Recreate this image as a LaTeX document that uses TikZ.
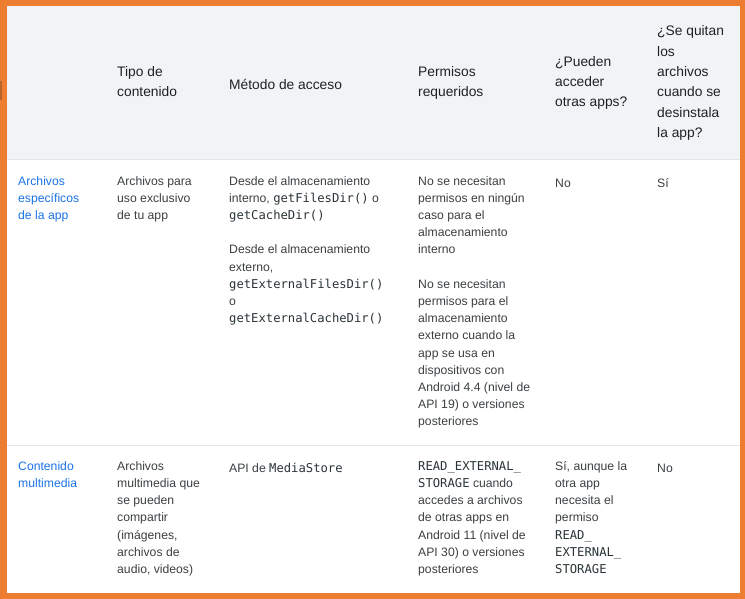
\documentclass[tikz,border=0pt]{standalone}
\usepackage{fontspec}
\setmainfont{Liberation Sans}
\newfontfamily\codefont{DejaVu Sans Mono}
\definecolor{frameorange}{HTML}{ED7D31}
\definecolor{frameshade}{HTML}{B8642C}
\definecolor{hdrbg}{HTML}{F1F3F4}
\definecolor{hdrtext}{HTML}{202124}
\definecolor{bodytext}{HTML}{3C4043}
\definecolor{codetext}{HTML}{2B3438}
\definecolor{linkblue}{HTML}{1A73E8}
\definecolor{rule}{HTML}{E3E5E8}
\newcommand{\cd}[1]{{\codefont\color{codetext}#1}}
\begin{document}
\begin{tikzpicture}[x=1pt,y=-1pt,
  hdr/.style={anchor=north west, inner sep=0pt, align=left,
    font=\fontsize{13.8}{20.3}\selectfont, text=hdrtext,
    execute at begin node={\rule{0pt}{13pt}}},
  bdy/.style={anchor=north west, inner sep=0pt, align=left,
    font=\fontsize{12.2}{17.2}\selectfont, text=bodytext,
    execute at begin node={\rule{0pt}{11pt}}},
  lnk/.style={bdy, text=linkblue},
  divider/.style={draw=rule, line width=1pt}]
\useasboundingbox (0,0) rectangle (745,599);
% frame
\fill[frameorange] (0,0) rectangle (745,599);
\fill[white] (7,6) rectangle (740,593);
\fill[frameshade] (0,81) rectangle (2,100);
% header background
\fill[hdrbg] (7,6) rectangle (740,159.5);
\draw[divider] (7,160) -- (740,160);
\draw[divider] (7,445.5) -- (740,445.5);
% header
\node[hdr] (h2) at (117,66.4) {Tipo de\\contenido};
\node[hdr] (h3) at (229,76.5) {Método de acceso};
\node[hdr] (h4) at (418,66.4) {Permisos\\requeridos};
\node[hdr] (h5) at (555,56.2) {¿Pueden\\acceder\\otras apps?};
\node[hdr] (h6) at (657,25.8) {¿Se quitan\\los\\archivos\\cuando se\\desinstala\\la app?};
% row 1
\node[lnk] (a1) at (18,176) {Archivos\\específicos\\de la app};
\node[bdy] (a2) at (117,176) {Archivos para\\uso exclusivo\\de tu app};
\node[bdy] (a3) at (229,176) {Desde el almacenamiento\\interno, \cd{getFilesDir()} o\\\cd{getCacheDir()}\\[17.2pt]Desde el almacenamiento\\externo,\\\cd{getExternalFilesDir()}\\o\\\cd{getExternalCacheDir()}};
\node[bdy] (a4) at (418,176) {No se necesitan\\permisos en ningún\\caso para el\\almacenamiento\\interno\\[17.2pt]No se necesitan\\permisos para el\\almacenamiento\\externo cuando la\\app se usa en\\dispositivos con\\Android 4.4 (nivel de\\API 19) o versiones\\posteriores};
\node[bdy] (a5) at (555,176) {No};
\node[bdy] (a6) at (657,176) {Sí};
% row 2
\node[lnk] (b1) at (18,461.2) {Contenido\\multimedia};
\node[bdy] (b2) at (117,461.2) {Archivos\\multimedia que\\se pueden\\compartir\\(imágenes,\\archivos de\\audio, videos)};
\node[bdy] (b3) at (229,461.2) {API de \cd{MediaStore}};
\node[bdy] (b4) at (418,461.2) {\cd{READ\_EXTERNAL\_}\\\cd{STORAGE} cuando\\accedes a archivos\\de otras apps en\\Android 11 (nivel de\\API 30) o versiones\\posteriores};
\node[bdy] (b5) at (555,461.2) {Sí, aunque la\\otra app\\necesita el\\permiso\\\cd{READ\_}\\\cd{EXTERNAL\_}\\\cd{STORAGE}};
\node[bdy] (b6) at (657,461.2) {No};
\end{tikzpicture}
\end{document}
